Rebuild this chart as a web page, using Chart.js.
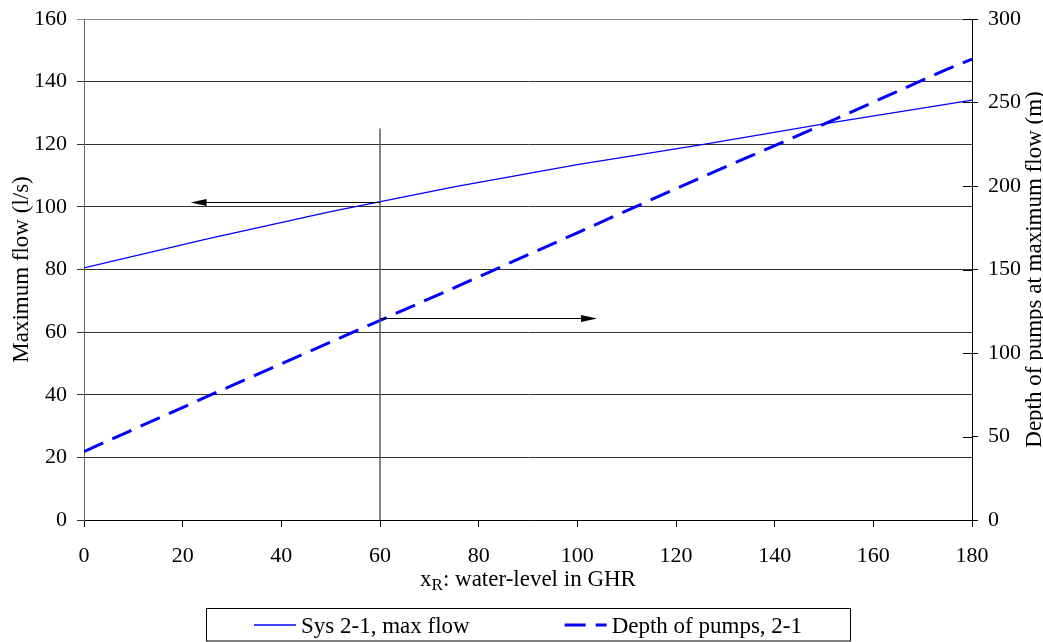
<!DOCTYPE html>
<html>
<head>
<meta charset="utf-8">
<script src="https://cdn.jsdelivr.net/npm/chart.js@4.4.1/dist/chart.umd.min.js"></script>
<style>
  html, body { margin: 0; padding: 0; background: #fff; }
  #wrap { width: 1043px; height: 642px; position: relative; }
</style>
</head>
<body>
<div id="wrap"><canvas id="pumpChart"></canvas></div>
<script>
// values
const flowLevels = [0, 25, 50, 75, 100, 125, 150, 175, 180];     // x_R
const maxFlow = [80.5, 89.8, 98.5, 106.4, 113.5, 119.8, 126.5, 132.8, 134.1]; // l/s
const depthLevels = [0, 25, 50, 75, 100, 125, 150, 175, 180];
const pumpDepth = [41, 74, 106.5, 139, 172, 205, 237, 270, 276]; // m

const seriesNames = ['Sys 2-1, max flow', 'Depth of pumps, 2-1'];

// axis ranges: [min, max, step]
const xRange = [0, 180, 20];
const flowRange = [0, 160, 20];
const depthRange = [0, 300, 50];

// reading example at x = 60
const markerX = [60, 60];
const markerY = [0, 125];
const arrowY = [101.7, 64.4];   // on the flow axis
const arrowTo = [21.6, 104];    // arrow tips (x)

const serif = '"Liberation Serif", "Times New Roman", serif';
const tickFont = { family: serif, size: 22 };

const toPoints = (xs, ys) => xs.map((x, i) => ({ x: x, y: ys[i] }));

// fixed box sizes so the plot area sits where it does in the original
const fixWidth = w => s => { s.width = w; s.paddingTop = 0; s.paddingBottom = 0; };

// arrows, inner right ticks, titles with subscript and the framed legend
const extras = {
    id: 'extras',
    afterDatasetsDraw(chart) {
        const ctx = chart.ctx;
        const sx = chart.scales.x, sy = chart.scales.y, sr = chart.scales.y1;
        ctx.save();
        ctx.strokeStyle = '#000';
        ctx.fillStyle = '#000';
        ctx.lineWidth = 1;
        arrowY.forEach((v, i) => {
            const y = Math.round(sy.getPixelForValue(v)) + 0.5;
            const x0 = sx.getPixelForValue(markerX[0]);
            const x1 = sx.getPixelForValue(arrowTo[i]);
            const dir = x1 > x0 ? 1 : -1;
            ctx.beginPath();
            ctx.moveTo(x0, y);
            ctx.lineTo(x1 - dir * 14, y);
            ctx.stroke();
            ctx.beginPath();
            ctx.moveTo(x1, y);
            ctx.lineTo(x1 - dir * 16, y - 3.5);
            ctx.lineTo(x1 - dir * 16, y + 3.5);
            ctx.closePath();
            ctx.fill();
        });
        // right axis tick marks cross the axis
        const right = chart.chartArea.right;
        sr.ticks.forEach(t => {
            const y = Math.round(sr.getPixelForValue(t.value)) + 0.5;
            ctx.beginPath();
            ctx.moveTo(right - 9, y);
            ctx.lineTo(right, y);
            ctx.stroke();
        });
        ctx.restore();
    },
    afterDraw(chart) {
        const ctx = chart.ctx;
        const area = chart.chartArea;
        const midY = (area.top + area.bottom) / 2;
        const midX = (area.left + area.right) / 2;
        const big = '23px ' + serif;
        const small = '17px ' + serif;
        ctx.save();
        ctx.fillStyle = '#000';
        ctx.textBaseline = 'alphabetic';

        // y titles, reading upwards
        ctx.font = big;
        ctx.textAlign = 'center';
        ctx.save();
        ctx.translate(28, midY);
        ctx.rotate(-Math.PI / 2);
        ctx.fillText('Maximum flow (l/s)', 0, 0);
        ctx.restore();
        ctx.save();
        ctx.translate(1041, midY);
        ctx.rotate(-Math.PI / 2);
        ctx.fillText('Depth of pumps at maximum flow (m)', 0, 0);
        ctx.restore();

        // x title with subscript
        ctx.textAlign = 'left';
        const rest = ': water-level in GHR';
        ctx.font = big;
        const wx = ctx.measureText('x').width;
        const wRest = ctx.measureText(rest).width;
        ctx.font = small;
        const wR = ctx.measureText('R').width;
        let x = midX - (wx + wR + wRest) / 2;
        const base = 586;
        ctx.font = big;
        ctx.fillText('x', x, base);
        x += wx;
        ctx.font = small;
        ctx.fillText('R', x, base + 4);
        x += wR;
        ctx.font = big;
        ctx.fillText(rest, x, base);

        // legend
        const sets = chart.data.datasets.filter(d => seriesNames.includes(d.label));
        const sample = 42, gapText = 5, gapItem = 95, pad = 48;
        const widths = sets.map(d => sample + gapText + ctx.measureText(d.label).width);
        const total = widths.reduce((a, b) => a + b, 0) + gapItem * (sets.length - 1);
        let lx = midX - total / 2;
        const boxTop = 608.5, boxH = 32.5;
        ctx.strokeStyle = '#000';
        ctx.lineWidth = 1;
        ctx.setLineDash([]);
        ctx.strokeRect(Math.round(lx - pad) + 0.5, boxTop, Math.round(total + 2 * pad), boxH);
        sets.forEach((d, i) => {
            ctx.save();
            ctx.strokeStyle = d.borderColor;
            ctx.lineWidth = d.borderWidth;
            ctx.setLineDash(d.borderDash || []);
            ctx.beginPath();
            ctx.moveTo(lx, 625);
            ctx.lineTo(lx + sample, 625);
            ctx.stroke();
            ctx.restore();
            ctx.fillText(d.label, lx + sample + gapText, 633);
            lx += widths[i] + gapItem;
        });
        ctx.restore();
    }
};

const ctx = document.getElementById('pumpChart').getContext('2d');
new Chart(ctx, {
    type: 'line',
    data: {
        datasets: [{
            label: 'marker',
            data: toPoints(markerX, markerY),
            borderColor: '#5a5a5a',
            borderWidth: 1.5,
            pointRadius: 0,
            yAxisID: 'y',
        }, {
            label: seriesNames[0],
            data: toPoints(flowLevels, maxFlow),
            borderColor: '#0000ff',
            borderWidth: 1.3,
            pointRadius: 0,
            tension: 0,
            yAxisID: 'y',
        }, {
            label: seriesNames[1],
            data: toPoints(depthLevels, pumpDepth),
            borderColor: '#0000ff',
            borderWidth: 3,
            borderDash: [21, 10],
            pointRadius: 0,
            tension: 0,
            yAxisID: 'y1',
        }],
    },
    options: {
        responsive: true,
        maintainAspectRatio: false,
        animation: false,
        layout: { padding: { top: 19, left: 0, right: 0, bottom: 0 } },
        plugins: {
            legend: { display: false },
            tooltip: { enabled: false },
        },
        scales: {
            x: {
                type: 'linear',
                position: 'bottom',
                min: xRange[0],
                max: xRange[1],
                ticks: { stepSize: xRange[2], padding: 16, color: '#000', font: tickFont, maxRotation: 0 },
                grid: { drawOnChartArea: false, tickLength: 7, color: '#000' },
                border: { color: '#000' },
                afterFit: s => { s.height = 122; },
            },
            y: {
                position: 'left',
                min: flowRange[0],
                max: flowRange[1],
                ticks: { stepSize: flowRange[2], padding: 10, color: '#000', font: tickFont },
                grid: {
                    tickLength: 7,
                    color: c => (c.tick && c.tick.value === flowRange[1]) ? '#8a8a8a' : '#333',
                },
                border: { color: '#666' },
                afterFit: fixWidth(84),
            },
            y1: {
                position: 'right',
                min: depthRange[0],
                max: depthRange[1],
                ticks: { stepSize: depthRange[2], padding: 10, color: '#000', font: tickFont },
                grid: { drawOnChartArea: false, tickLength: 6, color: '#000' },
                border: { color: '#000' },
                afterFit: fixWidth(71),
            },
        },
    },
    plugins: [extras],
});
</script>
</body>
</html>
